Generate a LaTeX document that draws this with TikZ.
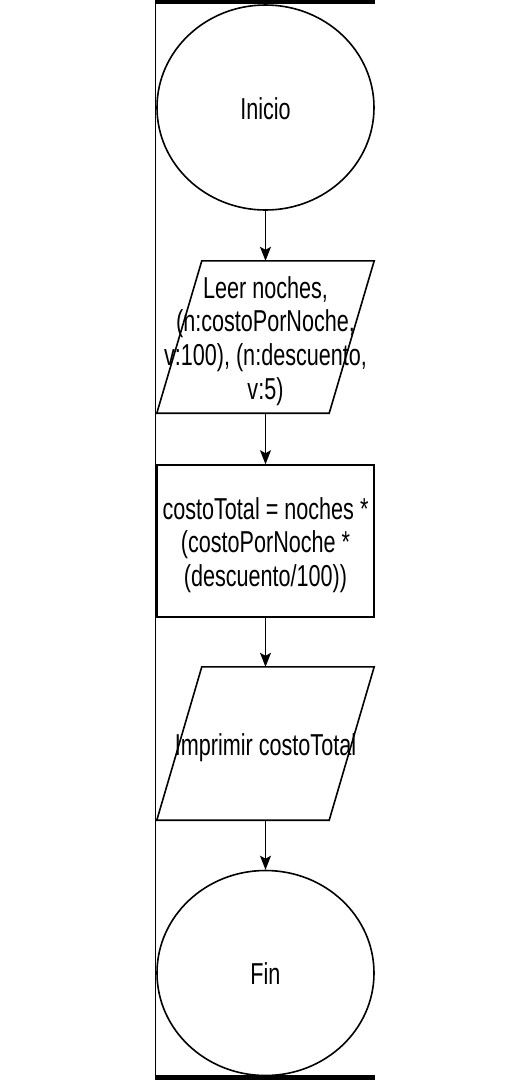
\documentclass[tikz,border=0pt]{standalone}
\usepackage{graphicx}
\usepackage{fontspec}
\setmainfont{Liberation Sans}
\usetikzlibrary{shapes.geometric,arrows.meta,calc}
\newcommand{\stxt}[1]{\raisebox{-5pt}[\height][\depth]{\scalebox{1}[1.4]{\fontsize{21.6}{24}\selectfont\begin{tabular}{@{}c@{}}#1\end{tabular}}}}
\begin{document}
\begin{tikzpicture}[x=1pt,y=-1pt,
  shapeline/.style={line width=1.6pt,draw=black},
  term/.style={ellipse,shapeline,minimum width=217pt,minimum height=205pt,inner sep=0pt},
  box/.style={rectangle,inner sep=0pt},
  procbox/.style={rectangle,shapeline,minimum width=217pt,minimum height=152pt,inner sep=0pt},
  flow/.style={line width=1.4pt,-{Stealth[length=14pt,width=11pt,inset=3pt]}}]
\useasboundingbox (0,0) rectangle (531,1080);
\fill[white] (0,0) rectangle (531,1080);
% frame remnants
\draw[line width=1.5pt] (155.5,0) -- (155.5,1080);
\fill[black] (155,0) rectangle (375,4);
\fill[black] (155,1075) rectangle (375,1080);
% nodes
\node[term] (ini) at (265.5,107.5) {\stxt{Inicio}};
\node[box,minimum width=217pt,minimum height=152pt] (leer) at (265.5,337) {\stxt{Leer noches,\\(n:costoPorNoche,\\v:100), (n:descuento,\\v:5)}};
\draw[shapeline,line join=miter] ($(leer.north west)+(45,0)$) -- (leer.north east) -- ($(leer.south east)+(-45,0)$) -- (leer.south west) -- cycle;
\node[procbox] (calc) at (265.5,541) {\stxt{costoTotal = noches *\\(costoPorNoche *\\(descuento/100))}};
\node[box,minimum width=217pt,minimum height=153pt] (imp) at (265.5,743.5) {\stxt{Imprimir costoTotal}};
\draw[shapeline,line join=miter] ($(imp.north west)+(45,0)$) -- (imp.north east) -- ($(imp.south east)+(-45,0)$) -- (imp.south west) -- cycle;
\node[term] (fin) at (265.5,973) {\stxt{Fin}};
% connectors
\draw[flow] (ini.south) -- (leer.north);
\draw[flow] (leer.south) -- (calc.north);
\draw[flow] (calc.south) -- (imp.north);
\draw[flow] (imp.south) -- (fin.north);
\end{tikzpicture}
\end{document}
